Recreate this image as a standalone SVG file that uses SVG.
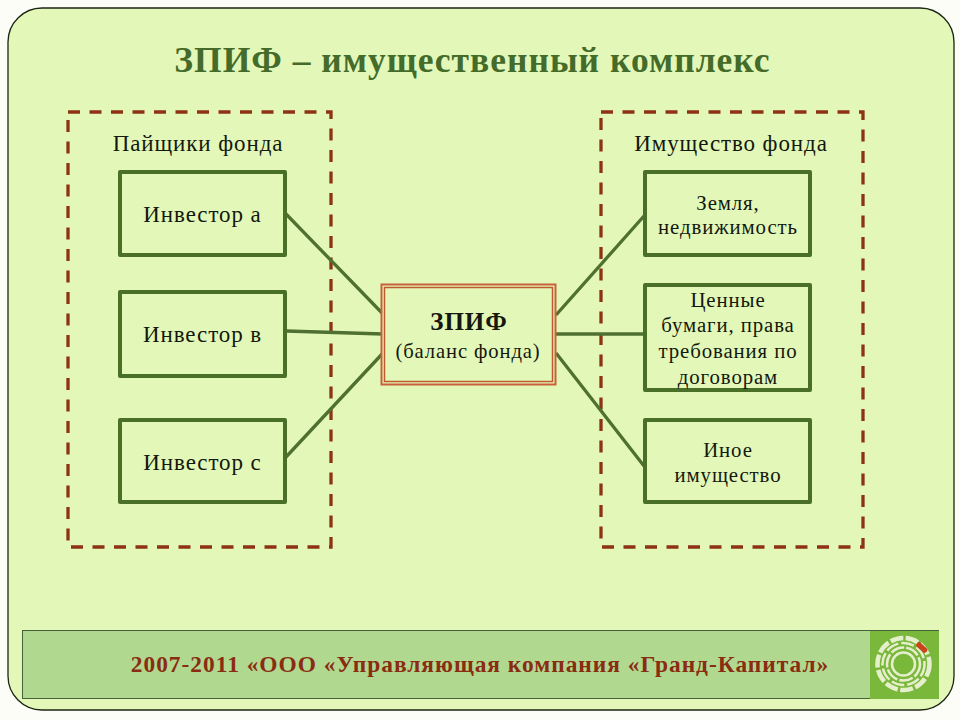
<svg xmlns="http://www.w3.org/2000/svg" width="960" height="720" viewBox="0 0 960 720">
<style>
text{font-family:"Liberation Serif","DejaVu Serif",serif;fill:#14180f;text-anchor:middle;font-size:23px;letter-spacing:.9px}
.s{font-size:20.800px;letter-spacing:.9px}
.n{fill:none;stroke:#4a7028;stroke-width:4;stroke-linejoin:round}
.d{fill:none;stroke:#8e3214;stroke-width:3.300;stroke-dasharray:12 9.500}
.c{stroke:#4f7030;stroke-width:3.300;fill:none}
.r{fill:none;stroke:#e6efcc}
</style>
<rect x="0" y="0" width="960" height="720" fill="#fbfdf6"/>
<rect x="8" y="8" width="946" height="702" rx="34" fill="#e3f8b8" stroke="#1c2414" stroke-width="1.300"/>
<text x="472.500" y="72" style="font-size:35.500px;font-weight:bold;fill:#456b2a;letter-spacing:1px">ЗПИФ – имущественный комплекс</text>
<rect class="d" x="68" y="112" width="263" height="435"/>
<rect class="d" x="601" y="112" width="262" height="435"/>
<text x="198" y="151">Пайщики фонда</text>
<text x="731" y="151">Имущество фонда</text>
<g id="connectors">
<path class="c" d="M286 214L383 314M286 331L383 334M286 457L383 353M556 315L644 216M556 334H644M556 353L644 466"/>
</g>
<g id="investor-a"><rect class="n" x="120" y="172" width="165" height="83"/><text x="202.500" y="222">Инвестор а</text></g>
<g id="investor-b"><rect class="n" x="120" y="292" width="165" height="84"/><text x="202.500" y="342">Инвестор в</text></g>
<g id="investor-c"><rect class="n" x="120" y="420" width="165" height="82"/><text x="202.500" y="470">Инвестор с</text></g>
<g id="zpif">
<rect x="381.500" y="284.500" width="174" height="100" fill="#e3f8b8" stroke="#c8603a" stroke-width="2"/>
<rect x="384.500" y="287.500" width="168" height="94" fill="none" stroke="#c05a30" stroke-width="1.500"/>
<text x="469" y="330" style="font-size:25px;font-weight:bold;letter-spacing:1px">ЗПИФ</text>
<text x="468" y="358" style="font-size:20.600px">(баланс фонда)</text>
</g>
<g id="land"><rect class="n" x="645" y="172" width="165" height="83"/><text class="s" x="728" y="210">Земля,</text><text class="s" x="728" y="234">недвижимость</text></g>
<g id="securities"><rect class="n" x="645" y="285" width="165" height="105"/>
<text class="s" x="728" y="307">Ценные</text><text class="s" x="728" y="332">бумаги, права</text><text class="s" x="728" y="358">требования по</text><text class="s" x="728" y="384">договорам</text></g>
<g id="other"><rect class="n" x="645" y="420" width="165" height="82"/><text class="s" x="728" y="457">Иное</text><text class="s" x="728" y="482">имущество</text></g>
<g id="footer">
<rect x="22.500" y="630.500" width="916" height="68" fill="#b0d88e" stroke="#46603a" stroke-width="1"/>
<rect x="870" y="631" width="69" height="68" fill="#7ab83c"/>
<text x="480" y="672" style="font-size:23.400px;font-weight:bold;fill:#8a2c12;letter-spacing:1px">2007-2011 «ООО «Управляющая компания «Гранд-Капитал»</text>
<circle class="r" cx="903.500" cy="664" r="11.500" stroke-width="2.500"/>
<circle class="r" cx="903.500" cy="664" r="16.500" stroke-width="2.500" stroke-dasharray="14 2"/>
<circle class="r" cx="903.500" cy="664" r="21" stroke-width="2.500" stroke-dasharray="13 3"/>
<circle class="r" cx="903.500" cy="664" r="26" stroke-width="4.500" stroke-dasharray="13 2.500"/>
<path d="M919 645L924.500 650" stroke="#c8441a" stroke-width="5.500" stroke-linecap="round"/>
</g>
</svg>
